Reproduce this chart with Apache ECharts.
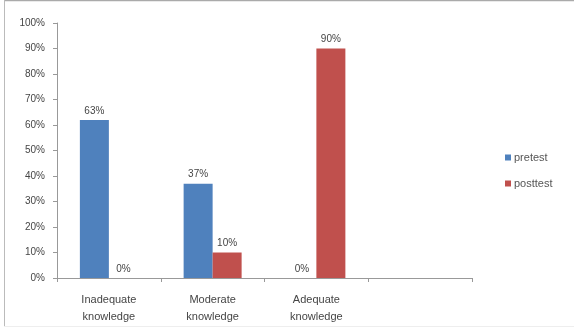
<!DOCTYPE html>
<html>
<head>
<meta charset="utf-8">
<style>html,body{margin:0;padding:0;background:#fff}#c{width:574px;height:333px}</style>
<script src="https://cdn.jsdelivr.net/npm/echarts@6/dist/echarts.min.js"></script>
</head>
<body>
<div id="c"></div>
<script>
const categories = ['Inadequate\nknowledge', 'Moderate\nknowledge', 'Adequate\nknowledge', ''];
const pretest = [62, 37, 0, null];
const posttest = [0, 10, 90, null];
const pretestLabels = ['63%', '37%', '0%', ''];
const posttestLabels = ['0%', '10%', '90%', ''];
const yTicks = [0, 10, 20, 30, 40, 50, 60, 70, 80, 90, 100];

const chart = echarts.init(document.getElementById('c'), null, {renderer: 'canvas'});
const font = 'Liberation Sans, Arial, sans-serif';
const labelStyle = {show: true, position: 'top', distance: 4, fontSize: 10, color: '#454545', fontFamily: font};
chart.setOption({
  animation: false,
  backgroundColor: '#fff',
  graphic: [
    {type: 'line', shape: {x1: 4, y1: 0.5, x2: 574, y2: 0.5}, style: {stroke: '#aaa', lineWidth: 1.5}},
    {type: 'line', shape: {x1: 4.5, y1: 0, x2: 4.5, y2: 326}, style: {stroke: '#bbb', lineWidth: 1}},
    {type: 'line', shape: {x1: 4, y1: 326.5, x2: 574, y2: 326.5}, style: {stroke: '#eee', lineWidth: 1}}
  ],
  grid: {left: 57, right: 102, top: 23, bottom: 55},
  legend: {
    orient: 'vertical', left: 500, top: 147, itemWidth: 6, itemHeight: 6, itemGap: 15,
    icon: 'rect', textStyle: {fontSize: 11, color: '#555', fontFamily: font, padding: [0,0,0,-2]},
    data: ['pretest', 'posttest']
  },
  xAxis: {
    type: 'category', data: categories,
    axisLine: {lineStyle: {color: '#999'}},
    axisTick: {show: true, length: 4, lineStyle: {color: '#999'}},
    axisLabel: {fontSize: 11, color: '#454545', fontFamily: font, lineHeight: 17, margin: 13, interval: 0}
  },
  yAxis: {
    type: 'value', min: 0, max: 100, interval: 10,
    axisLine: {show: true, lineStyle: {color: '#999'}},
    axisTick: {show: true, length: 4, lineStyle: {color: '#999'}},
    splitLine: {show: false},
    axisLabel: {fontSize: 10, color: '#454545', fontFamily: font, margin: 12,
      formatter: v => yTicks.includes(v) ? v + '%' : ''}
  },
  series: [
    {name: 'pretest', type: 'bar', data: pretest, barWidth: 29, barGap: '0%',
      itemStyle: {color: '#4F81BD'},
      label: Object.assign({}, labelStyle, {formatter: p => pretestLabels[p.dataIndex]})},
    {name: 'posttest', type: 'bar', data: posttest, barWidth: 29,
      itemStyle: {color: '#C0504D'},
      label: Object.assign({}, labelStyle, {formatter: p => posttestLabels[p.dataIndex]})}
  ]
});
</script>
</body>
</html>
